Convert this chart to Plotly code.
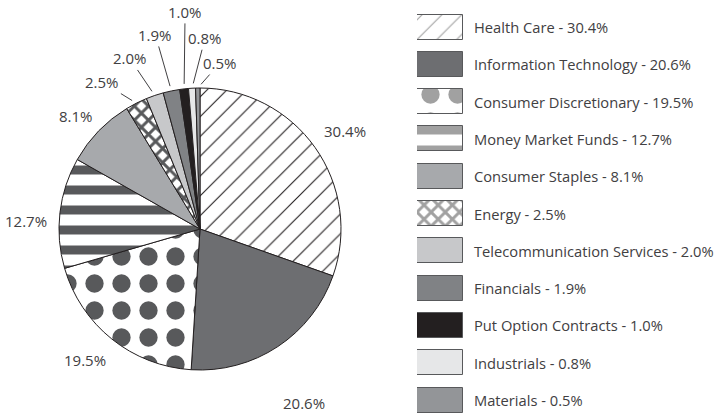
import math
import plotly.graph_objects as go

# Sector weights, clockwise from 12 o'clock
sectors = ['Health Care', 'Information Technology', 'Consumer Discretionary',
           'Money Market Funds', 'Consumer Staples', 'Energy',
           'Telecommunication Services', 'Financials', 'Put Option Contracts',
           'Industrials', 'Materials']
weights = [30.4, 20.6, 19.5, 12.7, 8.1, 2.5, 2.0, 1.9, 1.0, 0.8, 0.5]

# Fill styles for each slice / legend swatch
shapes = ['/', '', '.', '-', '', 'x', '', '', '', '', '']
bgcols = ['white', '#6d6e71', 'white', 'white', '#a7a9ac', 'white',
          '#c7c8ca', '#808285', '#231f20', '#e6e7e8', '#939598']
fgcols = ['#231f20', '#6d6e71', '#58595b', '#58595b', '#a7a9ac', '#58595b',
          '#c7c8ca', '#808285', '#231f20', '#e6e7e8', '#939598']
psize = [14, 8, 27, 20, 8, 10, 8, 8, 8, 8, 8]
psolid = [0.08, 0.3, 0.36, 0.45, 0.3, 0.5, 0.3, 0.3, 0.3, 0.3, 0.3]

# Label offsets (px) from the slice edge midpoint, and which ones get leader lines
lab_dx = [30, 26, -27, -34, -23, -34, -25, -16, 1, 13, 22]
lab_dy = [-17, 56, 21, 8, -15, -21, -37, -56, -77, -50, -25]
leader = [False, False, False, False, False, True, True, True, True, True, True]

W, H = 717, 414
CX, CY, R = 200, 229, 141
font_fam = '"Open Sans", Lato, sans-serif'
txt_col = '#414042'

fig = go.Figure()

# Main pie
fig.add_trace(go.Pie(
    labels=sectors,
    values=weights,
    sort=False,
    direction='clockwise',
    rotation=0,
    textinfo='none',
    marker=dict(colors=bgcols,
                line=dict(color='#231f20', width=1),
                pattern=dict(shape=shapes, bgcolor=bgcols, fgcolor=fgcols,
                             size=psize, solidity=psolid)),
    domain=dict(x=[(CX - R) / W, (CX + R) / W],
                y=[(H - CY - R) / H, (H - CY + R) / H]),
    showlegend=False,
    hoverinfo='label+value',
))

# Percentage labels placed at each slice's mid angle
total = sum(weights)
cum = 0
for i, w in enumerate(weights):
    mid = (cum + w / 2) / total * 2 * math.pi
    cum += w
    px = CX + R * math.sin(mid)
    py = CY - R * math.cos(mid)
    fig.add_annotation(
        x=px / W, y=1 - py / H, xref='paper', yref='paper',
        text=f'{w:.1f}%', showarrow=True,
        ax=lab_dx[i], ay=lab_dy[i], axref='pixel', ayref='pixel',
        arrowhead=0, arrowwidth=1, standoff=5,
        arrowcolor='#414042' if leader[i] else 'rgba(0,0,0,0)',
        font=dict(size=15, color=txt_col, family=font_fam),
    )

# Legend swatches drawn as a bar trace
fig.add_trace(go.Bar(
    x=[1] * len(sectors),
    y=sectors,
    orientation='h',
    width=0.67,
    marker=dict(color=bgcols,
                line=dict(color='#58595b', width=1),
                pattern=dict(shape=shapes, bgcolor=bgcols, fgcolor=fgcols,
                             size=psize, solidity=psolid)),
    xaxis='x2', yaxis='y2',
    showlegend=False,
    hoverinfo='skip',
))

# Legend text
for s, w in zip(sectors, weights):
    fig.add_annotation(
        x=472 / W, xref='paper', xanchor='left',
        y=s, yref='y2', yanchor='middle',
        text=f'{s} - {w:.1f}%', showarrow=False,
        font=dict(size=14.7, color=txt_col, family=font_fam),
    )

fig.update_layout(
    width=W, height=H,
    margin=dict(l=0, r=0, t=0, b=0),
    paper_bgcolor='white',
    plot_bgcolor='white',
    font=dict(family=font_fam, color=txt_col),
    xaxis2=dict(domain=[417 / W, 463 / W], range=[0, 1], visible=False,
                fixedrange=True),
    yaxis2=dict(domain=[0, 1], range=[10.375, -0.724], visible=False,
                type='category', fixedrange=True),
    bargap=0,
)

fig.write_html("out.html", config={'displayModeBar': False},
               post_script="document.body.style.margin='0';")
